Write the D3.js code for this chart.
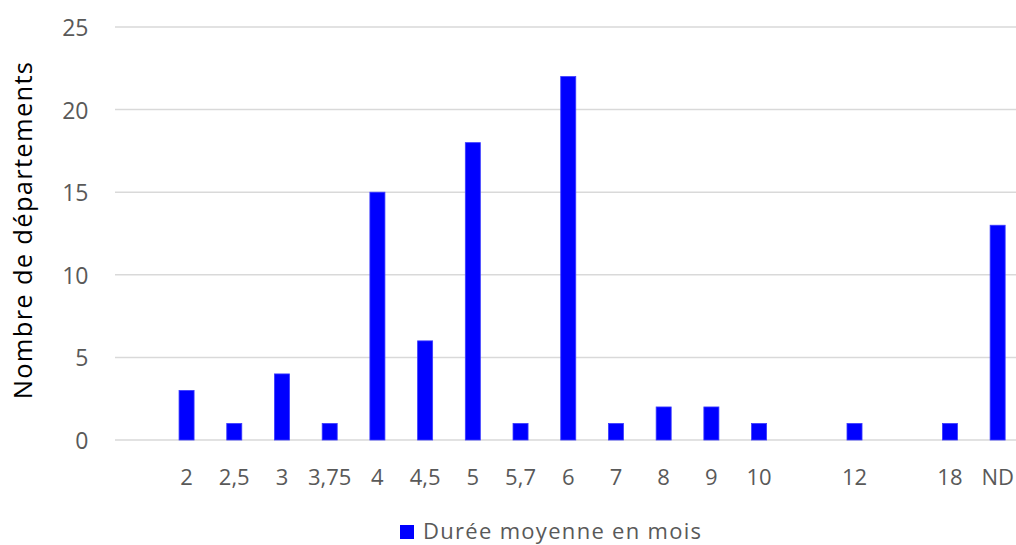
<!DOCTYPE html>
<html><head><meta charset="utf-8">
<script src="https://cdn.jsdelivr.net/npm/d3@7"></script>
<style>html,body{margin:0;padding:0;background:#fff;overflow:hidden}</style>
</head><body>
<svg id="c" width="1016" height="545"></svg>
<script>
const categories = ["", "2", "2,5", "3", "3,75", "4", "4,5", "5", "5,7", "6", "7", "8", "9", "10", "", "12", "", "18", "ND"];
const values = [null, 3, 1, 4, 1, 15, 6, 18, 1, 22, 1, 2, 2, 1, null, 1, null, 1, 13];
const yTicks = [0, 5, 10, 15, 20, 25];
const seriesName = "Durée moyenne en mois";
const yTitle = "Nombre de départements";

const font = "'Open Sans', sans-serif";
const svg = d3.select("#c");
const mLeft = 115, mRight = 1021.5, mTop = 27, mBottom = 440;
const x = d3.scaleBand().domain(d3.range(categories.length)).range([mLeft, mRight]).paddingInner(0.685).paddingOuter(0.3425);
const y = d3.scaleLinear().domain([0, 25]).range([mBottom, mTop]);

// gridlines
svg.append("g").selectAll("line").data(yTicks).join("line")
  .attr("x1", mLeft).attr("x2", 1016)
  .attr("y1", d => y(d)).attr("y2", d => y(d))
  .attr("stroke", "#d9d9d9").attr("stroke-width", 1.5);

// y tick labels
svg.append("g").selectAll("text").data(yTicks).join("text")
  .attr("x", 88.5).attr("y", d => y(d) + 9)
  .attr("text-anchor", "end").attr("font-family", font).attr("font-size", 23)
  .attr("fill", "#595959").text(d => d);

// bars
svg.append("g").selectAll("rect").data(values.map((v, i) => ({v, i})).filter(d => d.v != null)).join("rect")
  .attr("x", d => x(d.i)).attr("width", x.bandwidth())
  .attr("y", d => y(d.v)).attr("height", d => y(0) - y(d.v))
  .attr("fill", "#0000ff").attr("stroke", "#3b3bff").attr("stroke-width", 0.8);

// x tick labels
svg.append("g").selectAll("text").data(categories.map((c, i) => ({c, i}))).join("text")
  .attr("x", d => x(d.i) + x.bandwidth() / 2).attr("y", 485)
  .attr("text-anchor", "middle").attr("font-family", font).attr("font-size", 22)
  .attr("fill", "#595959").text(d => d.c);

// y title
svg.append("text").attr("transform", "translate(32,230) rotate(-90)")
  .attr("text-anchor", "middle").attr("font-family", font).attr("font-size", 25.5)
  .attr("letter-spacing", 1.3)
  .attr("fill", "#000").text(yTitle);

// legend
const lg = svg.append("g");
lg.append("rect").attr("x", 400).attr("y", 525).attr("width", 14).attr("height", 14).attr("fill", "#0000ff");
lg.append("text").attr("x", 423).attr("y", 538.5).attr("font-family", font).attr("font-size", 22)
  .attr("letter-spacing", 1.3)
  .attr("fill", "#595959").text(seriesName);
</script>
</body></html>
